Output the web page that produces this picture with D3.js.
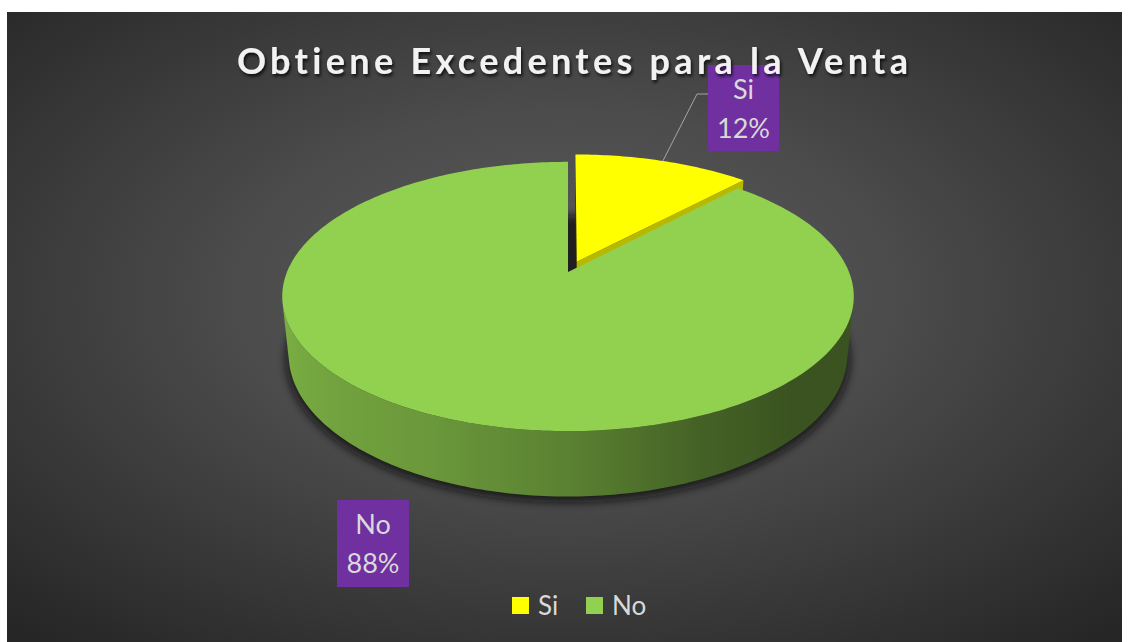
<!DOCTYPE html>
<html>
<head>
<meta charset="utf-8">
<script src="https://cdn.jsdelivr.net/npm/d3@7"></script>
<style>
  html, body { margin: 0; padding: 0; background: #ffffff; }
  svg { display: block; }
  text { font-variant-ligatures: none; font-feature-settings: "liga" 0, "clig" 0; }
</style>
</head>
<body>
<svg id="chart" width="1131" height="642"></svg>
<script>
// ---- data ----
const categories = ["Si", "No"];
const values = [12, 88];
const sliceColors = ["#FFFF00", "#92D050"];
const chartTitle = "Obtiene Excedentes para la Venta";

// ---- layout ----
const W = 1131, H = 642;
const frame = { x: 7, y: 12, w: 1115, h: 630 };
const view = {
  cx: 568, cy: 272,     // screen position of the pie centre (top face)
  k: 281,               // pixels per unit radius at the centre depth
  tilt: 27.6 * Math.PI / 180,
  dist: 4.87,           // camera distance in radius units
  depth: 0.235,         // pie thickness in radius units
  explode: 0.086        // explosion of the first slice
};
const labelBoxes = [
  { x: 708, y: 65, w: 71, h: 86, elbow: [697, 94] },
  { x: 337, y: 500, w: 72, h: 87, elbow: null }
];

const svg = d3.select("#chart");
const defs = svg.append("defs");

// ---- background ----
const bg = defs.append("radialGradient").attr("id", "bgGrad")
  .attr("cx", 0.5).attr("cy", 0.45).attr("r", 0.72);
bg.append("stop").attr("offset", 0).attr("stop-color", "#5c5c5c");
bg.append("stop").attr("offset", 0.4).attr("stop-color", "#4c4c4c");
bg.append("stop").attr("offset", 1).attr("stop-color", "#262626");
svg.append("rect").attr("x", frame.x).attr("y", frame.y)
  .attr("width", frame.w).attr("height", frame.h).attr("fill", "url(#bgGrad)");

// ---- 3D projection ----
const sT = Math.sin(view.tilt), cT = Math.cos(view.tilt);
function project(X, Hh, Z) {
  const yv = Hh * cT - Z * sT;
  const zv = Z * cT + Hh * sT;
  const sc = view.dist / (view.dist - zv);
  return [view.cx + view.k * X * sc, view.cy - view.k * yv * sc];
}
// point on the rim (angle a clockwise from the back) of a slice offset by (ox, oz)
function rim(a, Hh, off) { return project(Math.sin(a) + off[0], Hh, -Math.cos(a) + off[1]); }
function centre(Hh, off) { return project(off[0], Hh, off[1]); }
function area(pts) {
  let s = 0;
  for (let i = 0; i < pts.length; i++) {
    const p = pts[i], q = pts[(i + 1) % pts.length];
    s += p[0] * q[1] - q[0] * p[1];
  }
  return s / 2;
}
const poly = d3.line().curve(d3.curveLinearClosed);

const pie = d3.pie().sort(null).value(d => d)(values);
const slices = pie.map((p, i) => {
  const mid = (p.startAngle + p.endAngle) / 2;
  const e = i === 0 ? view.explode : 0;
  return { i, a0: p.startAngle, a1: p.endAngle, mid, off: [e * Math.sin(mid), -e * Math.cos(mid)] };
});

// brightness of the outer wall by the direction its surface faces
const wallShade = d3.scaleLinear()
  .domain([90, 137, 157, 180, 204, 270])
  .range([0.40, 0.40, 0.47, 0.62, 0.73, 0.88])
  .clamp(true);
function shadeColor(base, f) {
  const c = d3.rgb(base);
  return d3.rgb(c.r * f, c.g * f, c.b * f).formatHex();
}

// ---- shadow under the pie ----
const blur = defs.append("filter").attr("id", "pieShadow")
  .attr("x", -0.2).attr("y", -0.2).attr("width", 1.4).attr("height", 1.4);
blur.append("feGaussianBlur").attr("stdDeviation", 4);
const shadowPts = d3.range(0, 361, 2).map(d => {
  const a = d * Math.PI / 180;
  return project(1.01 * Math.sin(a), -view.depth, -1.01 * Math.cos(a));
});
svg.append("path").attr("d", poly(shadowPts))
  .attr("transform", "translate(0,4)")
  .attr("fill", "#0d0d0d").attr("opacity", 0.75)
  .attr("filter", "url(#pieShadow)");

const pieG = svg.append("g");
const hd = -view.depth;
const step = Math.PI / 180;

slices.forEach(s => {
  const g = pieG.append("g").attr("class", "slice-" + categories[s.i]);
  const base = sliceColors[s.i];

  // outer wall: collect runs of visible strips
  const n = Math.max(2, Math.ceil((s.a1 - s.a0) / step));
  const angles = d3.range(n + 1).map(j => s.a0 + (s.a1 - s.a0) * j / n);
  const vis = [];
  for (let j = 0; j < n; j++) {
    const q = [rim(angles[j], 0, s.off), rim(angles[j + 1], 0, s.off),
               rim(angles[j + 1], hd, s.off), rim(angles[j], hd, s.off)];
    vis.push(area(q) < -0.01);
  }
  let j = 0, run = 0;
  while (j < n) {
    if (!vis[j]) { j++; continue; }
    let k = j;
    while (k < n && vis[k]) k++;
    const as = angles.slice(j, k + 1);
    const top = as.map(a => rim(a, 0, s.off));
    const bot = as.map(a => rim(a, hd, s.off)).reverse();
    const xs = top.map(p => p[0]);
    const x0 = d3.min(xs), x1 = d3.max(xs);
    const gid = `wall-${s.i}-${run++}`;
    const lg = defs.append("linearGradient").attr("id", gid)
      .attr("gradientUnits", "userSpaceOnUse")
      .attr("x1", x0).attr("x2", x1).attr("y1", 0).attr("y2", 0);
    const stops = as.map((a, t) => ({
      off: (top[t][0] - x0) / (x1 - x0 || 1),
      col: shadeColor(base, wallShade(a * 180 / Math.PI))
    })).sort((p, q) => p.off - q.off);
    stops.forEach(st => lg.append("stop").attr("offset", st.off).attr("stop-color", st.col));
    g.append("path").attr("d", poly(top.concat(bot))).attr("fill", `url(#${gid})`);
    j = k;
  }

  // radial walls
  const ct = centre(0, s.off), cb = centre(hd, s.off);
  const startWall = [ct, rim(s.a0, 0, s.off), rim(s.a0, hd, s.off), cb];
  const endWall = [rim(s.a1, 0, s.off), ct, cb, rim(s.a1, hd, s.off)];
  if (area(startWall) < -0.01)
    g.append("path").attr("d", poly(startWall)).attr("fill", shadeColor(base, 0.22));
  if (area(endWall) < -0.01)
    g.append("path").attr("d", poly(endWall)).attr("fill", shadeColor(base, 0.72));

  // top face
  const topPts = [ct].concat(angles.map(a => rim(a, 0, s.off)));
  g.append("path").attr("d", poly(topPts)).attr("fill", base);
});

// ---- data labels ----
const fontFamily = "Lato, 'Open Sans', sans-serif";
const labelG = svg.append("g");
slices.forEach(s => {
  const b = labelBoxes[s.i];
  if (b.elbow) {
    const p0 = rim(s.mid, 0, s.off);
    labelG.append("polyline")
      .attr("points", [p0, b.elbow, [b.x, b.elbow[1]]].map(p => p.join(",")).join(" "))
      .attr("fill", "none").attr("stroke", "#a6a6a6").attr("stroke-width", 1);
  }
  labelG.append("rect").attr("x", b.x).attr("y", b.y)
    .attr("width", b.w).attr("height", b.h).attr("fill", "#7030A0");
  const t = labelG.append("text").attr("text-anchor", "middle")
    .attr("font-family", fontFamily).attr("font-size", 27).attr("fill", "#d9d9d9");
  t.append("tspan").attr("x", b.x + b.w / 2).attr("y", b.y + 34).text(categories[s.i]);
  t.append("tspan").attr("x", b.x + b.w / 2).attr("y", b.y + 73)
    .text(Math.round(values[s.i] / d3.sum(values) * 100) + "%");
});

// ---- legend ----
const legendItems = [{ x: 512 }, { x: 586 }];
const legend = svg.append("g");
categories.forEach((c, i) => {
  const lx = legendItems[i].x;
  legend.append("rect").attr("x", lx).attr("y", 597)
    .attr("width", 17).attr("height", 17).attr("fill", sliceColors[i]);
  legend.append("text").attr("x", lx + 26).attr("y", 615)
    .attr("font-family", fontFamily).attr("font-size", 26)
    .attr("fill", "#d9d9d9").text(c);
});

// ---- title ----
const ts = defs.append("filter").attr("id", "titleShadow")
  .attr("x", -0.05).attr("y", -0.3).attr("width", 1.1).attr("height", 1.6);
ts.append("feDropShadow").attr("dx", 1.5).attr("dy", 2.5)
  .attr("stdDeviation", 1.6).attr("flood-color", "#000").attr("flood-opacity", 0.75);
svg.append("text")
  .attr("x", 237).attr("y", 74)
  .attr("textLength", 671).attr("lengthAdjust", "spacing")
  .attr("font-family", fontFamily).attr("font-weight", "bold")
  .attr("font-size", 36).attr("fill", "#f2f2f2")
  .attr("filter", "url(#titleShadow)")
  .text(chartTitle);
</script>
</body>
</html>
